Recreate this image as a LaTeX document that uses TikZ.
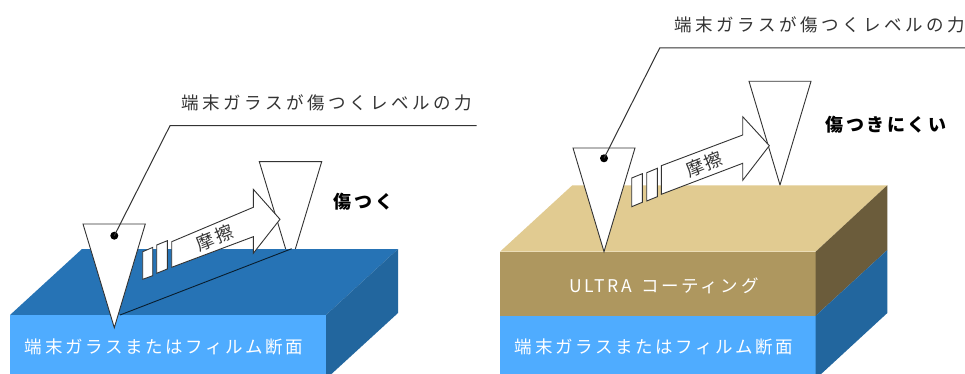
\documentclass[tikz,border=0pt]{standalone}
\usepackage{fontspec}
\setmainfont{Noto Sans CJK JP}
\definecolor{blueTop}{HTML}{2673B5}
\definecolor{blueFront}{HTML}{4FACFF}
\definecolor{blueSide}{HTML}{22669E}
\definecolor{tanTop}{HTML}{E1CB91}
\definecolor{tanFront}{HTML}{AE975F}
\definecolor{tanSide}{HTML}{6B5C3B}
\definecolor{ink}{HTML}{333333}
\tikzset{
  outline/.style={draw=ink,fill=white,line width=0.9pt,line join=miter},
  leader/.style={draw=ink,line width=1pt},
  pin/.style={circle,fill=black,inner sep=0pt,minimum size=8pt},
  heading/.style={inner sep=0pt,text=ink,font=\fontsize{17.5}{17.5}\selectfont\addfontfeature{LetterSpace=20}},
  verdict/.style={inner sep=0pt,text=black,font=\fontsize{18}{18}\selectfont\bfseries\addfontfeature{LetterSpace=14}},
  facelabel/.style={inner sep=0pt,text=white,font=\fontsize{17.5}{17.5}\selectfont\addfontfeature{LetterSpace=15}},
  coatlabel/.style={inner sep=0pt,text=white,font=\fontsize{17.5}{17.5}\selectfont\addfontfeature{LetterSpace=15}},
  rublabel/.style={inner sep=0pt,text=ink,rotate=22,font=\fontsize{18}{18}\selectfont\addfontfeature{LetterSpace=12}},
}
\begin{document}
\begin{tikzpicture}[x=1pt,y=-1pt]
\useasboundingbox (0,0) rectangle (965,374);
\clip (0,0) rectangle (965,374);
\fill[white] (0,0) rectangle (965,374);
% LEFT
\draw[outline] (259.3,161.7) -- (321.7,161.7) -- (290.5,265) -- cycle;
\fill[blueTop] (10,315) -- (82,249) -- (398,249) -- (326,315) -- cycle;
\fill[blueFront] (10,315) rectangle (326,380);
\fill[blueSide] (326,315) -- (398,249) -- (398,313) -- (326,379) -- cycle;
\draw[draw=black!75!blueTop,line width=0.9pt] (120,315) -- (291.7,248.7);
\draw[outline] (142.7,251.7) -- (152.7,247.4) -- (152.7,275.7) -- (142.7,279.3) -- cycle;
\draw[outline] (156.7,245) -- (167.3,240.7) -- (167.3,269) -- (156.7,273.3) -- cycle;
\draw[outline] (171.7,241.7) -- (253.3,207.3) -- (253.3,189.3) -- (280,219.3) -- (253.3,253.3) -- (253.3,236.7) -- (171.7,267.3) -- cycle;
\draw[outline] (83,224) -- (145.3,224) -- (114.3,327.7) -- cycle;
\node[pin] (dotL) at (114.3,235.7) {};
\coordinate (kneeL) at (170,125.7);
\coordinate (endL) at (476.7,125.7);
\draw[leader] (dotL.center) -- (kneeL) -- (endL);
\node[heading] (headL) at (327,103) {端末ガラスが傷つくレベルの力};
\node[verdict] (verdictL) at (363.5,202) {傷つく};
\node[rublabel] (rubL) at (215,238) {摩擦};
\node[facelabel] (faceL) at (164,347) {端末ガラスまたはフィルム断面};
% RIGHT
\draw[outline] (749,81.3) -- (811,81.3) -- (780,185) -- cycle;
\fill[tanTop] (500,251.7) -- (572.3,185.3) -- (887.3,185.3) -- (815.7,251.7) -- cycle;
\fill[tanFront] (500,251.7) rectangle (815.7,315.7);
\fill[blueFront] (500,315.7) rectangle (815.7,380);
\fill[tanSide] (815.7,251.7) -- (887.3,185.3) -- (887.3,250) -- (815.7,315.7) -- cycle;
\fill[blueSide] (815.7,315.7) -- (887.3,250) -- (887.3,313) -- (815.7,379) -- cycle;
\draw[outline] (631.7,178) -- (642.3,173.7) -- (642.3,202.3) -- (631.7,206.7) -- cycle;
\draw[outline] (646.7,172.7) -- (657.3,168.3) -- (657.3,196.7) -- (646.7,201) -- cycle;
\draw[outline] (661.3,165.7) -- (742.7,135) -- (742.7,116.7) -- (769.3,145.7) -- (742.7,180.3) -- (742.7,163.3) -- (661.3,194.3) -- cycle;
\draw[outline] (573,148) -- (635,148) -- (604,251.7) -- cycle;
\node[pin] (dotR) at (604,158.3) {};
\coordinate (kneeR) at (659.7,48);
\coordinate (endR) at (966,48);
\draw[leader] (dotR.center) -- (kneeR) -- (endR);
\node[heading] (headR) at (820,25) {端末ガラスが傷つくレベルの力};
\node[verdict] (verdictR) at (886,125) {傷つきにくい};
\node[rublabel] (rubR) at (704.3,164.3) {摩擦};
\node[coatlabel] (coat) at (664,286) {ULTRA\hspace{3pt} コーティング};
\node[facelabel] (faceR) at (654,347) {端末ガラスまたはフィルム断面};
\end{tikzpicture}
\end{document}
